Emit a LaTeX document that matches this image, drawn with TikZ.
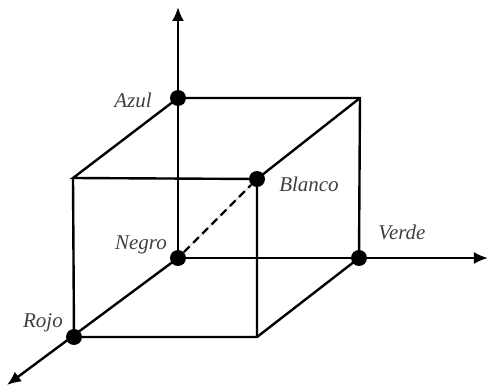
\documentclass[tikz,border=0pt]{standalone}
\usepackage{fontspec}
\setmainfont{Liberation Serif}
\usetikzlibrary{positioning,arrows.meta}

\begin{document}
\begin{tikzpicture}[
  x=0.5pt, y=-0.5pt,
  vertexdot/.style={circle, fill=black, inner sep=0pt, minimum size=8pt},
  colorlabel/.style={font=\itshape\fontsize{10.5}{12}\selectfont, text=black!75, inner sep=0pt},
  cubeedge/.style={line width=1.2pt},
  axisline/.style={line width=1.2pt, -{Latex[length=7pt,width=6pt]}}
]
\useasboundingbox (0,0) rectangle (489,390);

% Corners of the cube with a colour dot
\node[vertexdot] (negro)  at (178,258) {};
\node[vertexdot] (azul)   at (178,98)  {};
\node[vertexdot] (verde)  at (359,258) {};
\node[vertexdot] (rojo)   at (74,337)  {};
\node[vertexdot] (blanco) at (257,179) {};

% Corners without a dot
\coordinate (topback)   at (360,98);
\coordinate (topfront)  at (73,178);
\coordinate (basefront) at (257,337);

% Axis ends
\coordinate (upend)    at (178,7);
\coordinate (rightend) at (488,258);
\coordinate (downend)  at (7,385);

% Axes
\draw[axisline] (negro.center) -- (upend);
\draw[axisline] (negro.center) -- (rightend);
\draw[axisline] (negro.center) -- (downend);

% Cube edges
\draw[cubeedge] (azul.center) -- (topback) -- (verde.center);
\draw[cubeedge] (azul.center) -- (topfront) -- (blanco.center) -- (topback);
\draw[cubeedge] (topfront) -- (rojo.center) -- (basefront) -- (blanco.center);
\draw[cubeedge] (basefront) -- (verde.center);

% Grey diagonal
\draw[black!20, line width=0.4pt] (negro) -- (blanco);
\draw[line width=1.2pt, dash pattern=on 4pt off 2.5pt] (negro) -- (blanco);

% Labels
\node[colorlabel] (azullabel)   at (133,100) {Azul};
\node[colorlabel] (blancolabel) at (309,184) {Blanco};
\node[colorlabel] (verdelabel)  at (402,232) {Verde};
\node[colorlabel] (negrolabel)  at (141,245) {Negro};
\node[colorlabel] (rojolabel)   at (43,323)  {Rojo};

\end{tikzpicture}
\end{document}
